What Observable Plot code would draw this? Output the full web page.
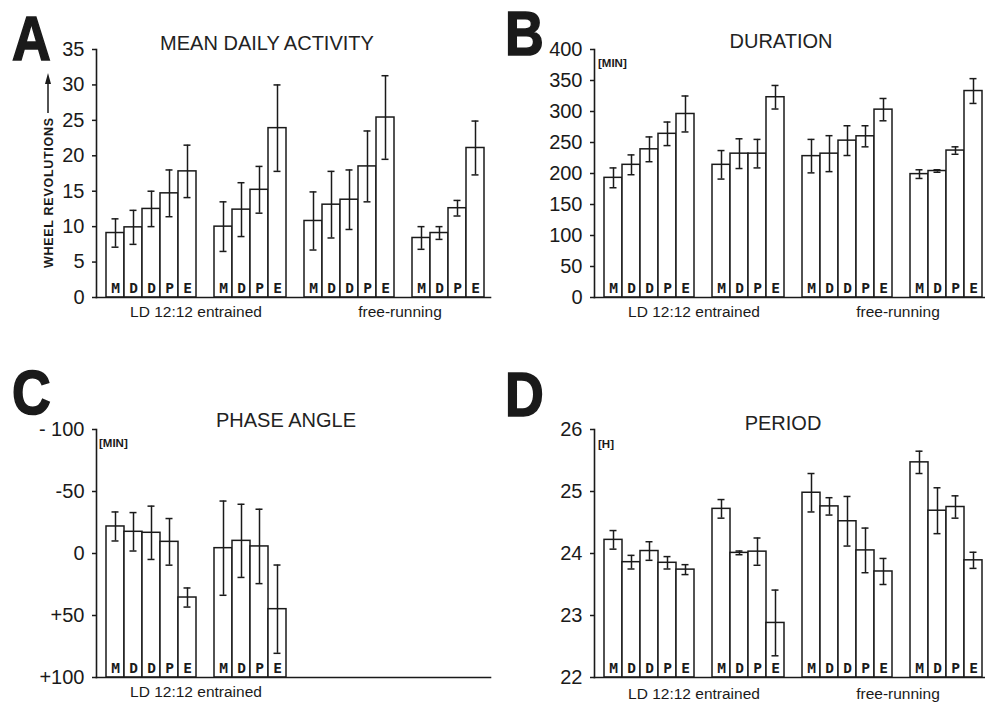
<!DOCTYPE html>
<html><head><meta charset="utf-8">
<script src="https://cdn.jsdelivr.net/npm/d3@7"></script>
<script src="https://cdn.jsdelivr.net/npm/@observablehq/plot@0.6"></script>
<style>
body{margin:0;background:#fff;}
#fig{position:relative;width:985px;height:707px;overflow:hidden;background:#fff;font-family:"Liberation Sans",Arial,sans-serif;}
.panel{position:absolute;}
#overlay{position:absolute;left:0;top:0;pointer-events:none;}
</style></head><body><div id="fig"></div>
<script>
// ---------- data ----------
const letters5 = ["M","D","D","P","E"];
const letters4 = ["M","D","P","E"];
const groupLetters = [letters5, letters4, letters5, letters4];
const conditions = ["LD 12:12 entrained", "free-running"];
const groupCondition = [0, 0, 1, 1];

const activityMean = [[9.1,9.9,12.5,14.7,17.8],[10.0,12.4,15.2,23.9],[10.8,13.1,13.8,18.5,25.4],[8.4,9.1,12.6,21.1]];
const activityErr  = [[2.0,2.4,2.5,3.3,3.7],[3.5,3.8,3.3,6.1],[4.1,4.7,4.2,5.0,5.9],[1.6,0.9,1.1,3.8]];
const durationMean = [[193,214,239,264,296],[214,232,232,323],[228,232,253,260,303],[199,204,237,333]];
const durationErr  = [[16,16,20,19,29],[23,24,23,19],[27,29,24,17,18],[7,2,6,20]];
const phaseMean = [[-21.8,-17.5,-16.7,-9.4,35.5],[-4.3,-10.2,-5.7,44.9]];
const phaseErr  = [[11.7,15.5,21.5,18.8,7.7],[38,29.5,30,35.6]];
const periodMean = [[24.22,23.86,24.04,23.85,23.74],[24.72,24.01,24.03,22.88],[24.98,24.76,24.52,24.05,23.71],[25.47,24.69,24.75,23.89]];
const periodErr  = [[0.15,0.11,0.15,0.10,0.08],[0.15,0.03,0.22,0.53],[0.31,0.14,0.40,0.36,0.21],[0.18,0.37,0.18,0.13]];

const ticksA = [0,5,10,15,20,25,30,35];
const ticksB = [0,50,100,150,200,250,300,350,400];
const ticksC = [-100,-50,0,50,100];
const tickLabelsC = ["- 100","-50","0","+50","+100"];
const ticksD = [22,23,24,25,26];

const titles = ["MEAN DAILY ACTIVITY","DURATION","PHASE ANGLE","PERIOD"];
const panelLetters = ["A","B","C","D"];
const unitLabels = ["WHEEL REVOLUTIONS","[MIN]","[MIN]","[H]"];

// ---------- build ----------
const slotDomain = [];
groupLetters.forEach((ls, g) => {
  ls.forEach((_, i) => slotDomain.push(`${g}-${i}`));
  if (g < groupLetters.length - 1) slotDomain.push(`gap${g}`);
});
function rows(means, errs) {
  return means.flatMap((arr, g) => arr.map((m, i) => ({
    slot: `${g}-${i}`, letter: groupLetters[g][i], group: g, cond: groupCondition[g], mean: m, err: errs[g][i]
  })));
}
const INK = "#1a1a1a";
function panel({data, domain, base, ticks, tickFormat, width, marginLeft, marginRight, insetLeft, insetRight, endTick}) {
  return Plot.plot({
    width, height: 312, marginLeft, marginRight, marginTop: 49, marginBottom: 15,
    style: {fontFamily: "'Liberation Sans', Arial, sans-serif", color: INK, background: "transparent", overflow: "visible"},
    x: {type: "band", domain: slotDomain, padding: 0, insetLeft, insetRight, axis: null},
    y: {domain, axis: null},
    marks: [
      Plot.barY(data, {x: "slot", y1: () => base, y2: "mean", fill: "white", stroke: INK, strokeWidth: 1.5}),
      Plot.ruleX(data, {x: "slot", y1: d => d.mean - d.err, y2: d => d.mean + d.err, stroke: INK, strokeWidth: 1.5}),
      Plot.tickY(data, {x: "slot", y: d => d.mean - d.err, insetLeft: 5.5, insetRight: 5.5, stroke: INK, strokeWidth: 1.5}),
      Plot.tickY(data, {x: "slot", y: d => d.mean + d.err, insetLeft: 5.5, insetRight: 5.5, stroke: INK, strokeWidth: 1.5}),
      Plot.text(data, {x: "slot", y: () => base, text: "letter", dy: -9, fontSize: 14.5, fontWeight: "bold", fontFamily: "'DejaVu Sans Mono', monospace", fill: INK}),
      Plot.frame({anchor: "left", stroke: INK, strokeWidth: 1.6}),
      Plot.frame({anchor: "bottom", stroke: INK, strokeWidth: 1.6}),
      Plot.axisY({ticks, tickSize: 4, tickPadding: 8, fontSize: 20, tickFormat, label: null, stroke: INK, strokeWidth: 1.5}),
      endTick ? Plot.ruleX([slotDomain[slotDomain.length - 1]], {x: d => d, y1: () => domain[0], dy: 3, dx: 8, stroke: INK, strokeWidth: 1.5, insetTop: 0}) : null
    ]
  });
}

const fig = document.getElementById("fig");
const specs = [
  {left: 0, top: 0, data: rows(activityMean, activityErr), domain: [0, 35], base: 0, ticks: ticksA, tickFormat: d => String(d), width: 492, marginLeft: 96, marginRight: 2, insetLeft: 7, insetRight: 3},
  {left: 494, top: 0, data: rows(durationMean, durationErr), domain: [0, 400], base: 0, ticks: ticksB, tickFormat: d => String(d), width: 491, marginLeft: 100, marginRight: 0, insetLeft: 9, insetRight: 2},
  {left: 0, top: 380, data: rows(phaseMean, phaseErr), domain: [100, -100], base: 100, ticks: ticksC, tickFormat: d => tickLabelsC[ticksC.indexOf(d)], width: 492, marginLeft: 96, marginRight: 2, insetLeft: 7, insetRight: 3},
  {left: 494, top: 380, data: rows(periodMean, periodErr), domain: [22, 26], base: 22, ticks: ticksD, tickFormat: d => String(d), width: 491, marginLeft: 100, marginRight: 0, insetLeft: 9, insetRight: 2}
];
const plots = specs.map(s => {
  const div = document.createElement("div");
  div.className = "panel";
  div.style.left = s.left + "px"; div.style.top = s.top + "px"; div.style.width = s.width + "px";
  const p = panel(s);
  div.appendChild(p);
  fig.appendChild(div);
  return p;
});

// ---------- annotations ----------
const ov = d3.select(fig).append("svg").attr("id", "overlay").attr("width", 985).attr("height", 707)
  .style("font-family", "'Liberation Sans', Arial, sans-serif").attr("fill", INK);

// panel letters
[[12, 60], [505, 55], [12, 414], [505, 416]].forEach(([x, y], i) => {
  ov.append("text").text(panelLetters[i])
    .attr("transform", `translate(${x},${y}) scale(0.88,1.04)`)
    .attr("font-size", 61).attr("font-weight", "bold")
    .attr("stroke", INK).attr("stroke-width", 1.6);
});
// titles
[[267, 50], [781, 48], [286, 427], [783, 430]].forEach(([x, y], i) => {
  ov.append("text").text(titles[i]).attr("x", x).attr("y", y)
    .attr("text-anchor", "middle").attr("font-size", 20).attr("fill", "#222");
});
// y label of A (rotated) with arrow
ov.append("text").text(unitLabels[0])
  .attr("transform", "translate(53,268) rotate(-90)")
  .attr("font-size", 12.5).attr("font-weight", "bold").attr("textLength", 150);
ov.append("line").attr("x1", 48).attr("x2", 48).attr("y1", 113).attr("y2", 82).attr("stroke", INK).attr("stroke-width", 1.5);
ov.append("path").attr("d", "M48,73 L45,84 L51,84 Z").attr("fill", INK);
// unit labels
[[null], [598, 67], [99, 447], [598, 448]].forEach((p, i) => {
  if (i === 0) return;
  ov.append("text").text(unitLabels[i]).attr("x", p[0]).attr("y", p[1])
    .attr("font-size", 11.5).attr("font-weight", "bold");
});
// group (condition) labels, centred on their bars via the x scale
const labelBaselines = [317, 317, 697, 699];
plots.forEach((p, pi) => {
  const sx = p.scale("x");
  const data = specs[pi].data;
  conditions.forEach((c, ci) => {
    const slots = data.filter(d => d.cond === ci).map(d => d.slot);
    if (!slots.length) return;
    const x0 = sx.apply(slots[0]);
    const x1 = sx.apply(slots[slots.length - 1]) + sx.bandwidth;
    ov.append("text").text(c).attr("x", specs[pi].left + (x0 + x1) / 2 + (ci === 1 ? 6 : 0)).attr("y", labelBaselines[pi])
      .attr("text-anchor", "middle").attr("font-size", 15.5);
  });
});
</script></body></html>
